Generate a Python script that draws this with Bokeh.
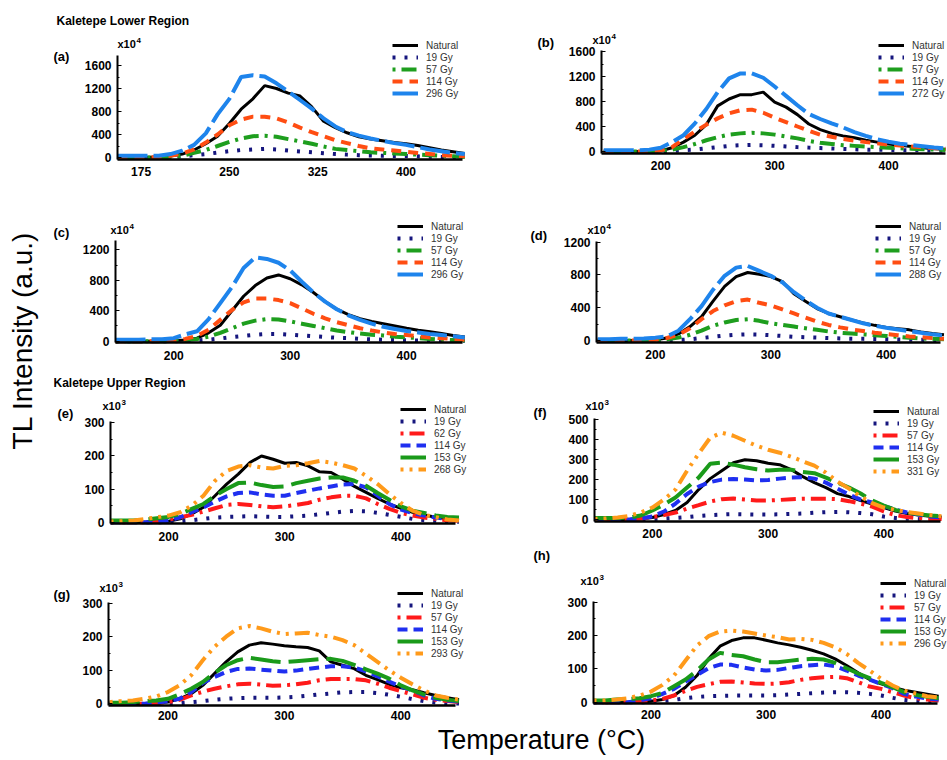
import math
from bokeh.plotting import figure
from bokeh.models import Range1d, Label, Legend, LegendItem, FixedTicker
from bokeh.layouts import row, column
from bokeh.embed import file_html
from bokeh.resources import INLINE

# ---------------- data ----------------
temperature = [150, 160, 170, 180, 190, 200, 210, 220, 230, 240, 250, 260, 270, 280, 290, 300,
               310, 320, 330, 340, 350, 360, 370, 380, 390, 400, 410, 420, 430, 440, 450]
temperature_a = [155, 160, 170, 180, 190, 200, 210, 220, 230, 240, 250, 260, 270, 280, 290, 300,
                 310, 320, 330, 340, 350, 360, 370, 380, 390, 400, 410, 420, 430, 440, 450]

# Kaletepe Lower Region (x10^4)
a_natural = [0,0,0,5,10,25,60,130,240,370,590,840,1020,1250,1200,1120,1070,880,630,520,430,360,320,290,260,240,210,170,130,100,70]
a_19 = [0,0,0,0,0,0,20,40,60,85,110,130,140,150,140,120,105,90,75,60,50,40,35,30,28,25,20,15,10,5,5]
a_57 = [0,0,0,0,5,10,30,80,130,200,270,330,370,380,360,320,280,240,190,150,130,110,90,80,70,60,50,40,30,20,10]
a_114 = [0,0,0,0,10,30,70,140,260,400,560,660,710,710,680,610,520,440,370,300,250,200,160,140,120,100,80,60,40,30,20]
a_296 = [30,30,30,30,30,60,120,220,420,750,1020,1400,1430,1410,1290,1150,1000,850,680,540,440,380,330,290,250,220,180,140,110,80,60]

b_natural = [0,0,0,0,0,10,60,150,260,430,730,840,910,910,950,790,710,590,440,350,290,250,220,180,150,120,100,80,60,45,35]
b_19 = [0,0,0,0,0,0,10,20,30,50,70,90,100,105,100,90,80,70,62,55,48,40,35,30,28,25,22,20,17,15,10]
b_57 = [0,0,0,0,0,10,30,70,120,180,230,270,290,300,290,270,240,210,170,140,120,100,90,80,70,60,52,45,37,30,25]
b_114 = [0,0,0,0,0,20,70,200,320,430,530,610,660,670,620,540,470,400,330,270,235,200,175,150,130,110,95,80,65,55,45]
b_272 = [20,20,20,20,30,60,150,260,450,680,950,1170,1250,1250,1180,1040,890,740,600,520,450,385,310,250,195,155,125,105,85,65,50]

c_natural = [0,0,0,0,0,5,15,40,110,210,400,590,730,830,870,820,740,640,520,420,350,295,260,230,200,170,145,125,100,75,55]
c_19 = [0,0,0,0,0,0,5,10,20,35,55,70,85,95,95,85,75,65,55,45,40,30,25,20,15,12,10,8,6,5,5]
c_57 = [0,0,0,0,0,5,15,30,60,110,170,230,270,290,285,260,230,200,170,140,120,100,85,75,60,50,40,30,20,15,10]
c_114 = [0,0,0,0,0,10,30,70,150,280,410,510,560,560,540,500,430,360,300,250,210,170,140,115,95,80,65,50,40,30,20]
c_296 = [20,20,20,25,25,40,90,130,290,500,710,960,1100,1080,1030,930,780,640,520,420,340,280,230,190,160,135,115,95,80,65,50]

d_natural = [0,0,0,0,0,10,30,80,170,290,480,660,780,830,810,780,720,570,480,390,330,290,250,215,185,160,145,130,105,85,70]
d_19 = [0,0,0,0,0,0,0,5,15,30,45,60,70,75,72,65,55,45,40,35,30,25,22,20,18,15,12,10,8,5,5]
d_57 = [0,0,0,0,0,5,15,35,70,120,180,220,250,260,240,210,190,170,150,130,110,95,85,75,65,55,45,35,25,20,15]
d_114 = [0,0,0,0,0,10,30,70,150,260,360,430,480,500,460,430,380,330,280,230,190,160,135,115,95,80,65,50,40,30,20]
d_288 = [15,15,20,20,25,35,50,120,260,420,620,790,890,910,850,790,710,590,490,400,330,290,250,210,180,155,135,115,95,75,60]

# Kaletepe Upper Region (x10^3)
e_natural = [0,0,0,0,0,3,10,25,45,80,115,145,180,200,190,178,180,170,152,150,130,108,90,72,55,42,30,22,15,10,6]
e_19 = [0,0,0,0,0,0,3,6,10,14,16,17,18,17,16,16,18,20,24,28,32,34,33,28,22,16,10,6,4,2,1]
e_62 = [0,0,0,0,3,8,15,22,32,42,52,55,52,48,45,48,52,58,68,75,80,80,72,55,40,28,20,14,10,6,4]
e_114 = [0,0,0,0,0,5,15,30,45,62,78,88,90,84,80,80,88,95,102,108,114,115,105,80,55,38,28,20,14,10,8]
e_153 = [5,5,5,8,12,16,25,40,55,80,100,118,120,112,106,108,118,125,132,135,135,125,110,88,68,48,35,28,20,16,14]
e_268 = [2,3,5,10,15,20,30,50,80,125,155,168,172,165,162,170,172,178,185,180,172,162,140,115,85,58,35,22,15,8,5]

f_natural = [0,0,0,0,3,10,25,45,85,150,205,245,285,300,295,282,275,250,215,185,160,130,115,95,78,60,42,30,22,16,12]
f_19 = [0,0,0,0,0,2,5,8,12,18,22,25,27,26,25,25,26,28,30,34,37,38,36,32,26,15,8,4,2,1,1]
f_57 = [0,0,0,0,5,12,22,35,55,72,90,102,105,100,95,95,98,102,104,104,104,102,92,80,65,40,22,12,6,3,2]
f_114 = [0,0,0,0,5,15,40,80,128,165,188,200,203,200,196,198,205,210,212,205,185,155,125,100,85,67,50,35,25,15,10]
f_153 = [8,8,8,10,20,45,75,110,160,210,280,285,275,262,252,246,250,250,238,232,210,185,160,130,95,70,48,35,27,20,16]
f_331 = [3,5,10,18,35,60,100,150,245,330,410,435,420,395,370,350,335,315,292,270,235,190,155,115,82,60,48,38,30,22,16]

g_natural = [0,0,0,0,2,5,15,30,55,90,125,155,175,182,178,173,170,168,158,125,115,105,85,72,58,48,42,33,25,18,12]
g_19 = [0,0,0,0,0,0,2,5,8,12,15,17,18,18,18,19,21,24,28,31,34,35,35,32,27,21,14,8,4,2,1]
g_57 = [0,0,0,0,2,5,12,25,36,45,52,58,60,57,54,55,58,63,70,74,74,74,70,60,48,38,28,18,12,8,5]
g_114 = [0,0,0,0,3,8,15,35,62,80,95,104,105,102,99,96,99,104,108,112,112,108,97,82,66,52,40,25,15,10,6]
g_153 = [3,3,5,8,10,15,28,45,65,92,115,130,137,132,127,124,127,130,133,134,128,116,103,90,75,55,40,28,18,12,8]
g_293 = [5,8,10,15,22,35,55,85,130,170,200,225,232,225,215,208,210,212,205,200,190,175,150,125,100,78,58,40,25,18,12]

h_natural = [0,0,0,0,0,3,8,20,45,80,130,168,185,193,193,186,178,172,165,156,145,130,110,88,68,55,45,36,30,24,18]
h_19 = [0,0,0,0,0,0,3,7,12,16,18,19,20,20,20,20,21,23,25,27,29,30,30,28,25,20,13,7,4,2,1]
h_57 = [0,0,0,0,2,5,10,20,34,46,54,61,62,59,56,55,56,60,67,72,75,76,72,60,47,40,30,20,12,8,5]
h_114 = [0,0,0,0,5,12,25,40,62,82,102,113,112,104,98,95,97,103,108,111,113,108,95,80,68,55,42,25,17,11,8]
h_153 = [5,5,8,10,12,18,28,48,68,95,128,148,142,138,128,120,120,124,128,130,128,118,102,86,72,58,45,30,22,16,12]
h_296 = [5,5,8,12,20,32,52,80,125,170,198,212,215,212,206,200,195,188,190,187,178,165,145,118,95,70,50,35,26,18,14]

lower_labels_a = ["Natural", "19 Gy", "57 Gy", "114 Gy", "296 Gy"]
lower_labels_b = ["Natural", "19 Gy", "57 Gy", "114 Gy", "272 Gy"]
lower_labels_c = ["Natural", "19 Gy", "57 Gy", "114 Gy", "296 Gy"]
lower_labels_d = ["Natural", "19 Gy", "57 Gy", "114 Gy", "288 Gy"]
upper_labels_e = ["Natural", "19 Gy", "62 Gy", "114 Gy", "153 Gy", "268 Gy"]
upper_labels_f = ["Natural", "19 Gy", "57 Gy", "114 Gy", "153 Gy", "331 Gy"]
upper_labels_g = ["Natural", "19 Gy", "57 Gy", "114 Gy", "153 Gy", "293 Gy"]
upper_labels_h = ["Natural", "19 Gy", "57 Gy", "114 Gy", "153 Gy", "296 Gy"]

# ---------------- styles ----------------
FONT = "Liberation Sans"
STY_NAT = dict(color="black", line_width=3, line_dash="solid")
STY_19 = dict(color="#16167e", line_width=4, line_dash="3 9")
LOWER_STY = [STY_NAT, STY_19,
             dict(color="#1e9e1e", line_width=4, line_dash="3 6 15 6"),
             dict(color="#ff4d12", line_width=4, line_dash="10 7"),
             dict(color="#1e84ec", line_width=4, line_dash="30 6")]
UPPER_STY = [STY_NAT, STY_19,
             dict(color="#ff1a1a", line_width=4, line_dash="3 6 15 6"),
             dict(color="#1f2ff0", line_width=4, line_dash="10 6"),
             dict(color="#1a9a1a", line_width=4, line_dash="30 8"),
             dict(color="#ff9a1a", line_width=4, line_dash="3 6 3 6 15 6")]

BASE_SHIFT = 0.3  # empirical offset of the alphabetic baseline (in em)


def make_panel(geo, xs, xticks, yticks, yminor, series, labels, styles,
               letter, letter_pos, exp, exp_pos, legend_pos, title=None, xstandoff=8):
    fx, fy, fw, fh = geo["fig"]
    AX, x0, RXp, x1 = geo["xmap"]
    Y0, sy, ytop = geo["ymap"]
    sx = (RXp - AX) / (x1 - x0)

    def dx(px):
        return x0 + (px - AX) / sx

    def dy(py):
        return (Y0 - py) / sy

    p = figure(width=fw, height=fh,
               x_range=Range1d(dx(fx), dx(fx + fw)), y_range=Range1d(dy(fy + fh), dy(fy)),
               output_backend="svg", toolbar_location=None, title=None, min_border=0)
    p.outline_line_color = None
    p.xgrid.visible = False
    p.ygrid.visible = False
    p.background_fill_color = "white"
    p.border_fill_color = "white"

    vline = -1.5 / sy
    xa = p.xaxis[0]
    xa.fixed_location = vline
    xa.bounds = (x0, x1)
    xa.ticker = FixedTicker(ticks=xticks)
    xa.axis_line_width = 2.5
    xa.axis_line_color = "black"
    xa.major_tick_line_color = None
    xa.minor_tick_line_color = None
    xa.major_tick_out = 0
    xa.major_tick_in = 0
    xa.minor_tick_out = 0
    xa.major_label_standoff = xstandoff
    xa.major_label_text_font = FONT
    xa.major_label_text_font_size = "12px"
    xa.major_label_text_font_style = "bold"
    xa.major_label_text_color = "black"

    ya = p.yaxis[0]
    ya.fixed_location = x0
    ya.bounds = (vline, ytop)
    ya.ticker = FixedTicker(ticks=yticks, minor_ticks=yminor)
    ya.axis_line_width = 2
    ya.axis_line_color = "black"
    ya.major_tick_in = 4
    ya.major_tick_out = 0
    ya.minor_tick_in = 2
    ya.minor_tick_out = 0
    ya.major_tick_line_color = "black"
    ya.minor_tick_line_color = "black"
    ya.major_label_standoff = 6
    ya.major_label_text_font = FONT
    ya.major_label_text_font_size = "12px"
    ya.major_label_text_font_style = "bold"
    ya.major_label_text_color = "black"

    items = []
    for vals, lab, sty in zip(series, labels, styles):
        r = p.line(xs, vals, line_color=sty["color"], line_width=sty["line_width"],
                   line_dash=sty["line_dash"])
        items.append(LegendItem(label=lab, renderers=[r]))

    n = len(labels)
    gx, yfirst = legend_pos
    bottom = yfirst - 6 + 12 * n
    legend = Legend(items=items, location=(gx - fx, fy + fh - bottom), glyph_width=26, glyph_height=12,
                    label_height=12, label_standoff=8, spacing=0, padding=0, margin=0,
                    border_line_color=None, background_fill_alpha=0,
                    label_text_font=FONT, label_text_font_size="10px",
                    label_text_color="#333333")
    p.add_layout(legend)

    def lab(px, py, text, size, baseline="alphabetic"):
        if baseline == "alphabetic":
            py = py - BASE_SHIFT * size
        p.add_layout(Label(x=dx(px), y=dy(py), text=text, text_font=FONT, text_font_size=f"{size}px",
                           text_font_style="bold", text_color="black", text_align="left",
                           text_baseline=baseline))

    lab(letter_pos[0], letter_pos[1], letter, 13, baseline="middle")
    lab(exp_pos[0], exp_pos[1], "x10", 11)
    lab(exp_pos[0] + 19, exp_pos[1] - 5, exp, 8)
    if title:
        lab(title[0], title[1], title[2], 12)
    return p


LX, RX = 53, 470
LW, RW = 417, 477

ga = dict(fig=(LX, 0, LW, 195), xmap=(117, 155, 462, 448), ymap=(157, 0.0575, 1770))
gb = dict(fig=(RX, 0, RW, 195), xmap=(601, 148, 945, 450), ymap=(151, 0.0625, 1610))
gc = dict(fig=(LX, 195, LW, 175), xmap=(115, 150, 462, 448), ymap=(340.7, 0.07617, 1320))
gd = dict(fig=(RX, 195, RW, 175), xmap=(596, 149, 940, 447), ymap=(340, 0.0819, 1210))
ge = dict(fig=(LX, 370, LW, 177), xmap=(110, 150, 455, 447), ymap=(521.7, 0.3313, 303))
gf = dict(fig=(RX, 370, RW, 177), xmap=(594, 150, 940, 449), ymap=(519, 0.1994, 505))
gg = dict(fig=(LX, 547, LW, 177), xmap=(108, 149, 455, 447), ymap=(703.3, 0.3353, 302))
gh = dict(fig=(RX, 547, RW, 177), xmap=(593, 150, 937, 449), ymap=(701.7, 0.3333, 302))

pa = make_panel(ga, temperature_a, [175, 250, 325, 400], [0, 400, 800, 1200, 1600],
                [200, 600, 1000, 1400], [a_natural, a_19, a_57, a_114, a_296], lower_labels_a,
                LOWER_STY, "(a)", (53, 56), "4", (117, 47), (392, 45),
                title=(56, 24, "Kaletepe Lower Region"))
pb = make_panel(gb, temperature, [200, 300, 400], [0, 400, 800, 1200, 1600],
                [200, 600, 1000, 1400], [b_natural, b_19, b_57, b_114, b_272], lower_labels_b,
                LOWER_STY, "(b)", (537, 42), "4", (592, 43), (878, 45))
pc = make_panel(gc, temperature, [200, 300, 400], [0, 400, 800, 1200],
                [200, 600, 1000], [c_natural, c_19, c_57, c_114, c_296], lower_labels_c,
                LOWER_STY, "(c)", (53, 232), "4", (110, 233), (397, 226))
pd = make_panel(gd, temperature, [200, 300, 400], [0, 400, 800, 1200],
                [200, 600, 1000], [d_natural, d_19, d_57, d_114, d_288], lower_labels_d,
                LOWER_STY, "(d)", (530, 235), "4", (587, 233), (875, 226))
pe = make_panel(ge, temperature, [200, 300, 400], [0, 100, 200, 300],
                [50, 150, 250], [e_natural, e_19, e_62, e_114, e_153, e_268], upper_labels_e,
                UPPER_STY, "(e)", (57, 413), "3", (102, 409), (400, 409),
                title=(53, 386, "Kaletepe Upper Region"))
pf = make_panel(gf, temperature, [200, 300, 400], [0, 100, 200, 300, 400, 500],
                [50, 150, 250, 350, 450], [f_natural, f_19, f_57, f_114, f_153, f_331], upper_labels_f,
                UPPER_STY, "(f)", (533, 412), "3", (585, 409), (873, 411))
pg = make_panel(gg, temperature, [200, 300, 400], [0, 100, 200, 300],
                [50, 150, 250], [g_natural, g_19, g_57, g_114, g_153, g_293], upper_labels_g,
                UPPER_STY, "(g)", (53, 594), "3", (99, 591), (397, 593), xstandoff=6)
ph = make_panel(gh, temperature, [200, 300, 400], [0, 100, 200, 300],
                [50, 150, 250], [h_natural, h_19, h_57, h_114, h_153, h_296], upper_labels_h,
                UPPER_STY, "(h)", (533, 555), "3", (580, 584), (880, 583), xstandoff=6)


def blank(w, h):
    p = figure(width=w, height=h, x_range=Range1d(0, w), y_range=Range1d(0, h),
               output_backend="svg", toolbar_location=None, title=None,
               x_axis_type=None, y_axis_type=None, min_border=0)
    p.outline_line_color = None
    return p


ylab = blank(53, 760)
ylab.add_layout(Label(x=30 - BASE_SHIFT * 28, y=760 - 340, text="TL Intensity (a.u.)", angle=math.pi / 2,
                      text_align="center", text_baseline="alphabetic", text_font=FONT,
                      text_font_size="28px", text_color="black"))

XLAB_TOP = 724
xlab = blank(LW + RW, 760 - XLAB_TOP)
xlab.add_layout(Label(x=541 - LX, y=760 - (748 - BASE_SHIFT * 27), text="Temperature (°C)",
                      text_align="center", text_baseline="alphabetic", text_font=FONT,
                      text_font_size="27px", text_color="black"))

layout = row(ylab, column(row(pa, pb), row(pc, pd), row(pe, pf), row(pg, ph), xlab))

open("out.html", "w").write(file_html(layout, INLINE))
